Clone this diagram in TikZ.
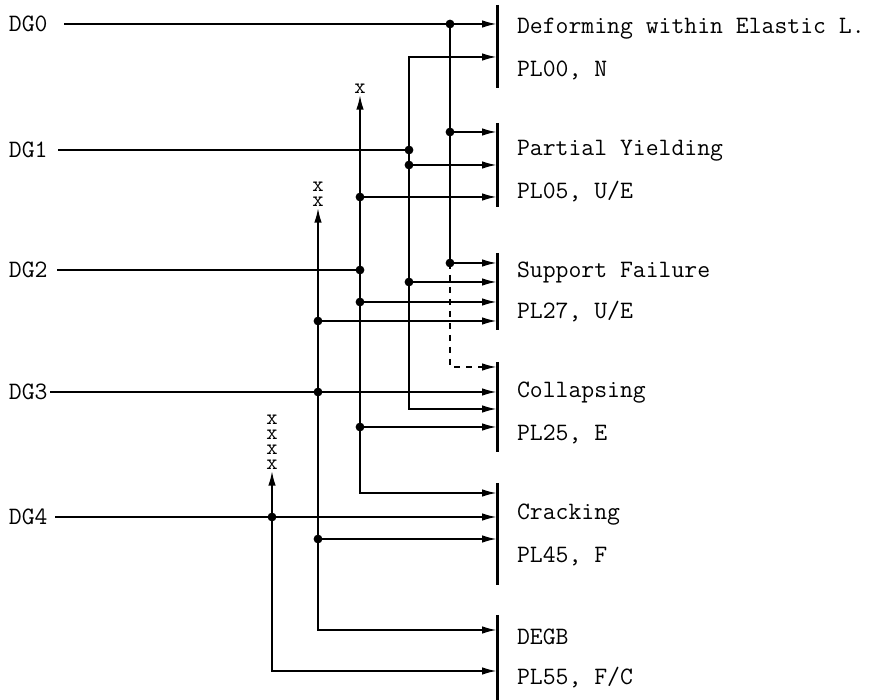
\documentclass[tikz,border=0pt]{standalone}
\usepackage{tikz}
\usetikzlibrary{arrows.meta}

\begin{document}
\begin{tikzpicture}[x=0.5pt,y=-0.5pt,>={Latex[length=7.5pt,width=3.8pt]},line width=1pt,
  every node/.style={font=\fontsize{12.5}{14}\selectfont\ttfamily},
  dg/.style={anchor=west,inner sep=0pt},
  res/.style={anchor=west,inner sep=0pt},
  xmark/.style={inner sep=0pt,font=\fontsize{11}{12}\selectfont\ttfamily},
  bar/.style={line width=1.5pt},
  dot/.style={circle,fill,inner sep=0pt,minimum size=4.4pt}]
\useasboundingbox (0,0) rectangle (885,700);
% damage grades
\node[dg] (dg0) at (8,24) {DG0};
\node[dg] (dg1) at (8,150) {DG1};
\node[dg] (dg2) at (8,270) {DG2};
\node[dg] (dg3) at (8,392) {DG3};
\node[dg] (dg4) at (8,517) {DG4};
\coordinate (s0) at (64,24);
\coordinate (s1) at (58,150);
\coordinate (s2) at (57,270);
\coordinate (s3) at (50,392);
\coordinate (s4) at (55,517);
% result bars
\coordinate (b1) at (497,5);   \coordinate (e1) at (497,88);
\coordinate (b2) at (497,123); \coordinate (e2) at (497,207);
\coordinate (b3) at (497,253); \coordinate (e3) at (497,330);
\coordinate (b4) at (497,362); \coordinate (e4) at (497,452);
\coordinate (b5) at (497,483); \coordinate (e5) at (497,585);
\coordinate (b6) at (497,615); \coordinate (e6) at (497,700);
\foreach \i in {1,...,6}{\draw[bar] (b\i) -- (e\i);}
\node[res] (r1a) at (516,29) {Deforming within Elastic L.};
\node[res] (r1b) at (516,70) {PL00, N};
\node[res] (r2a) at (516,151) {Partial Yielding};
\node[res] (r2b) at (516,192) {PL05, U/E};
\node[res] (r3a) at (516,272) {Support Failure};
\node[res] (r3b) at (516,312) {PL27, U/E};
\node[res] (r4a) at (516,393) {Collapsing};
\node[res] (r4b) at (516,434) {PL25, E};
\node[res] (r5a) at (516,515) {Cracking};
\node[res] (r5b) at (516,556) {PL45, F};
\node[res] (r6a) at (516,637) {DEGB};
\node[res] (r6b) at (516,678) {PL55, F/C};
% junctions
\coordinate (a0) at (450,24);  \coordinate (a1) at (450,132); \coordinate (a2) at (450,263);
\coordinate (c0) at (409,57);  \coordinate (c1) at (409,150); \coordinate (c2) at (409,165);
\coordinate (c3) at (409,282); \coordinate (c4) at (409,409);
\coordinate (d1) at (360,197); \coordinate (d2) at (360,270); \coordinate (d3) at (360,302);
\coordinate (d4) at (360,427); \coordinate (d5) at (360,493);
\coordinate (f1) at (318,321); \coordinate (f2) at (318,392); \coordinate (f3) at (318,539);
\coordinate (f4) at (318,630);
\coordinate (g1) at (272,517); \coordinate (g2) at (272,671);
% x marks
\node[xmark] (xa) at (360,89) {x};
\foreach \k/\y in {1/187,2/202}{\node[xmark] (xb\k) at (318,\y) {x};}
\foreach \k/\y in {1/420,2/435,3/450,4/465}{\node[xmark] (xc\k) at (272,\y) {x};}
% input lines
\draw[->] (s0) -- (s0 -| b1);
\draw (s1) -- (c1);
\draw (s2) -- (d2);
\draw[->] (s3) -- (s3 -| b4);
\draw[->] (s4) -- (s4 -| b5);
% column from DG0
\draw (a0) -- (a2);
\draw[->] (a1) -- (a1 -| b2);
\draw[->] (a2) -- (a2 -| b3);
\draw[->,dashed] (a2) |- (b4 |- 0,367);
% column from DG1
\draw[<->] (c0 -| b1) -| (c4) -- (c4 -| b4);
\draw[->] (c2) -- (c2 -| b2);
\draw[->] (c3) -- (c3 -| b3);
% column from DG2
\draw[<->] (xa.south) |- (d5 -| b5);
\draw[->] (d1) -- (d1 -| b2);
\draw[->] (d3) -- (d3 -| b3);
\draw[->] (d4) -- (d4 -| b4);
% column from DG3
\draw[<->] (xb2.south) |- (f4 -| b6);
\draw[->] (f1) -- (f1 -| b3);
\draw[->] (f3) -- (f3 -| b5);
% column from DG4
\draw[<->] (xc4.south) |- (g2 -| b6);
% dots
\foreach \p in {a0,a1,a2,c1,c2,c3,d1,d2,d3,d4,f1,f2,f3,g1}{\node[dot] at (\p) {};}
\end{tikzpicture}
\end{document}
